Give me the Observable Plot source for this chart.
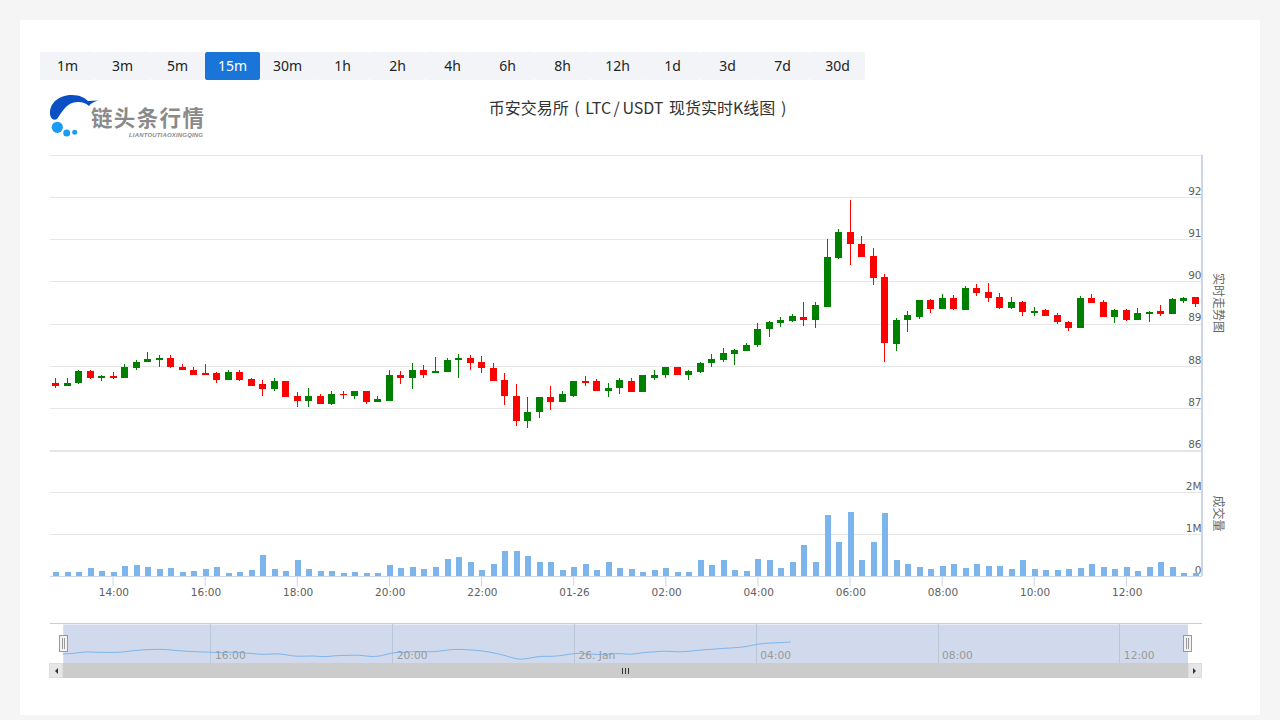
<!DOCTYPE html>
<html lang="zh">
<head>
<meta charset="utf-8">
<script src="https://cdn.jsdelivr.net/npm/d3@7"></script>
<script src="https://cdn.jsdelivr.net/npm/@observablehq/plot@0.6"></script>
<style>
html,body{margin:0;padding:0;background:#f5f5f5;}
body{width:1280px;height:720px;overflow:hidden;position:relative;font-family:"Noto Sans CJK SC","Noto Sans",sans-serif;}
#card{position:absolute;left:20px;top:20px;width:1240px;height:695px;background:#fff;}
#btns{position:absolute;left:40px;top:52px;display:flex;height:28px;}
#btns div{width:55px;height:28px;line-height:28px;text-align:center;background:#f2f4f7;color:#222;font-size:14px;font-family:"Noto Sans",sans-serif;border-radius:2px;}
#btns div.on{background:#1976d8;color:#fff;}
#title{position:absolute;left:0;width:1275px;top:95px;text-align:center;font-size:16px;line-height:24px;color:#333;word-spacing:2px;white-space:pre;}
#title span{margin:0 2.5px;word-spacing:0;}
.abs{position:absolute;left:0;}
.abs svg{display:block;}
#navTop{position:absolute;left:50px;width:1152px;top:623px;height:1px;background:#ccc;}
</style>
</head>
<body>
<div id="card"></div>
<div id="btns"></div>
<div id="title">币安交易所 ( LTC<span>/</span>USDT 现货实时K线图 )</div>
<svg id="logo" class="abs" style="top:90px" width="220" height="52" viewBox="0 90 220 52">
  <path fill="#0b4fc4" d="M50,113 C50,102 60,95 72,95 C80,95 85,98 88,101 L98,100.5 C94,102 91,103 89,106 C85,102 78,101 72,103 C66,105 61,113 57,119 C53,121 50,118 50,113 Z"/>
  <circle cx="57.3" cy="127.3" r="5.6" fill="#1a9bf5"/>
  <circle cx="66.7" cy="133" r="3.5" fill="#1a9bf5"/>
  <circle cx="74.7" cy="132.3" r="2.5" fill="#1a9bf5"/>
  <text x="91" y="126" font-size="21.5" textLength="113" font-weight="700" fill="#8a8a8a" font-family="Noto Sans CJK SC">链头条行情</text>
  <text x="129" y="137.2" font-size="6" font-weight="700" font-style="italic" fill="#8a8a8a" textLength="74" font-family="Liberation Sans">LIANTOUTIAOXINGQING</text>
</svg>
<div id="price" class="abs" style="top:150px"></div>
<div id="volume" class="abs" style="top:449px"></div>
<div id="navTop"></div>
<div id="nav" class="abs" style="top:620px"></div>
<svg id="chrome" class="abs" style="top:630px" width="1280" height="50" viewBox="0 630 1280 50">
  <rect x="49" y="663" width="1153" height="15" fill="#cccccc"/>
  <rect x="49.5" y="663.5" width="13" height="14" fill="#e6e6e6" stroke="#ddd"/>
  <rect x="1188.5" y="663.5" width="13" height="14" fill="#e6e6e6" stroke="#ddd"/>
  <path d="M58,668 L58,674 L55,671 Z" fill="#333"/>
  <path d="M1193,668 L1193,674 L1196,671 Z" fill="#333"/>
  <path d="M622.5,668 V674 M625.5,668 V674 M628.5,668 V674" stroke="#333" fill="none"/>
  <rect x="59.5" y="635.5" width="8" height="16" fill="#f2f2f2" stroke="#999"/>
  <path d="M62.5,638 V649 M64.5,638 V649" stroke="#999" fill="none"/>
  <rect x="1183.5" y="635.5" width="8" height="16" fill="#f2f2f2" stroke="#999"/>
  <path d="M1186.5,638 V649 M1188.5,638 V649" stroke="#999" fill="none"/>
</svg>
<script>
const intervals = ["1m","3m","5m","15m","30m","1h","2h","4h","6h","8h","12h","1d","3d","7d","30d"];
const activeInterval = "15m";

const open = [87.58,87.51,87.58,87.87,87.70,87.75,87.72,87.94,88.10,88.13,88.18,87.98,87.91,87.82,87.82,87.65,87.84,87.68,87.56,87.44,
87.63,87.27,87.17,87.29,87.08,87.32,87.27,87.41,87.13,87.17,87.79,87.70,87.91,87.82,87.84,88.13,88.18,88.08,87.94,87.65,
87.29,86.70,86.89,87.25,87.13,87.29,87.63,87.63,87.41,87.46,87.63,87.37,87.72,87.77,87.98,87.77,87.84,88.06,88.13,88.27,
88.34,88.48,88.87,89.01,89.06,89.15,89.08,89.40,90.56,91.18,90.89,90.61,90.11,88.52,89.09,89.16,89.57,89.35,89.61,89.33,
89.85,89.75,89.64,89.38,89.52,89.26,89.32,89.20,89.04,88.89,89.60,89.51,89.15,89.32,89.08,89.23,89.30,89.23,89.53,89.63];
const high = [87.70,87.72,87.89,87.91,87.77,87.84,88.03,88.13,88.32,88.25,88.25,88.03,87.96,88.03,87.84,87.89,87.91,87.72,87.65,87.72,
87.63,87.37,87.48,87.34,87.41,87.39,87.41,87.41,87.29,87.91,87.87,88.06,88.01,88.20,88.18,88.27,88.25,88.22,88.06,87.82,
87.56,87.25,87.25,87.53,87.41,87.63,87.75,87.68,87.60,87.70,87.72,87.77,87.91,87.98,87.98,87.89,88.08,88.27,88.41,88.39,
88.53,89.01,89.06,89.15,89.22,89.51,89.51,91.01,91.25,91.94,91.08,90.80,90.18,89.14,89.30,89.57,89.59,89.71,89.68,89.90,
89.94,89.97,89.73,89.64,89.54,89.40,89.34,89.25,89.06,89.65,89.70,89.56,89.34,89.34,89.37,89.30,89.44,89.60,89.63,89.63];
const low = [87.48,87.51,87.56,87.68,87.63,87.68,87.72,87.91,88.08,87.98,87.94,87.89,87.79,87.79,87.60,87.65,87.63,87.51,87.27,87.39,
87.25,87.01,87.01,87.08,87.06,87.20,87.22,87.10,87.13,87.17,87.56,87.44,87.72,87.82,87.84,87.72,87.89,87.82,87.63,87.06,
86.58,86.53,86.77,86.94,87.13,87.25,87.53,87.41,87.25,87.34,87.37,87.37,87.67,87.70,87.77,87.67,87.82,87.98,88.08,88.01,
88.34,88.44,88.67,88.91,89.03,88.94,88.89,89.40,90.54,90.40,90.58,89.92,88.09,88.36,88.81,89.11,89.26,89.35,89.33,89.33,
89.66,89.52,89.35,89.35,89.19,89.19,89.18,88.99,88.82,88.89,89.49,89.15,89.01,89.06,89.08,89.04,89.18,89.23,89.49,89.39];
const close = [87.51,87.60,87.87,87.72,87.75,87.72,87.96,88.10,88.15,88.18,87.96,87.89,87.79,87.79,87.65,87.84,87.65,87.51,87.44,87.63,
87.25,87.17,87.29,87.08,87.32,87.30,87.41,87.13,87.20,87.79,87.70,87.91,87.79,87.87,88.13,88.18,88.06,87.94,87.63,87.29,
86.70,86.91,87.25,87.15,87.32,87.63,87.60,87.41,87.48,87.65,87.37,87.77,87.77,87.98,87.77,87.87,88.06,88.15,88.29,88.37,
88.48,88.87,89.03,89.08,89.17,89.08,89.44,90.58,91.18,90.89,90.58,90.09,88.55,89.09,89.21,89.57,89.35,89.61,89.35,89.85,
89.73,89.61,89.38,89.52,89.28,89.30,89.18,89.04,88.89,89.60,89.49,89.15,89.32,89.08,89.25,89.27,89.23,89.58,89.60,89.46];
const volumeM = [.10,.09,.09,.20,.12,.10,.25,.27,.22,.17,.20,.10,.13,.17,.21,.07,.10,.15,.51,.17,
.12,.37,.16,.12,.13,.08,.10,.07,.06,.27,.20,.21,.17,.21,.40,.46,.33,.15,.29,.60,
.59,.48,.33,.34,.15,.22,.29,.15,.33,.20,.17,.09,.15,.20,.09,.10,.39,.26,.38,.15,
.12,.40,.39,.20,.34,.75,.34,1.46,.81,1.52,.38,.81,1.51,.38,.29,.21,.17,.25,.29,.19,
.29,.24,.24,.17,.38,.17,.15,.15,.17,.19,.29,.21,.17,.21,.12,.22,.33,.21,.06,.06];

const firstCandle = Date.UTC(2020,0,25,12,45);
const QUARTER = 15*60*1000;
const times = open.map((_, i) => new Date(firstCandle + i*QUARTER));
const candles = times.map((t, i) => ({t, o:open[i], h:high[i], l:low[i], c:close[i], v:volumeM[i]}));
const navLineCount = 65;           // the navigator series stops at 04:45

const priceTicks = [86,87,88,89,90,91,92];
const priceGrid = [86,87,88,89,90,91,92,93];
const volumeTicks = [0,1,2];
const volumeGrid = [1,2];
const hourTicks = [14,16,18,20,22,24,26,28,30,32,34,36].map(h => new Date(Date.UTC(2020,0,25,h)));
const navTicks = [16,20,24,28,32,36].map(h => new Date(Date.UTC(2020,0,25,h)));

const MS_PER_PX = QUARTER/11.515;
const xDomain = [new Date(firstCandle - 5*MS_PER_PX), new Date(firstCandle + 99*QUARTER + 7*MS_PER_PX)];
const hhmm = d3.utcFormat("%H:%M");
const axisFont = {fontFamily:"DejaVu Sans", fontSize:"10.5px", background:"transparent"};
const green = "#008000", red = "#ff0000", volBlue = "#7cb5ec", gridC = "#e6e6e6", axisC = "#ccd6eb", labelC = "#606060";
const dirColor = d => d.c >= d.o ? green : red;
const xRight = xDomain[1];
const crisp = {shapeRendering:"crispEdges"};

document.getElementById("btns").innerHTML = intervals.map(s => `<div class="${s===activeInterval?"on":""}">${s}</div>`).join("");

document.getElementById("price").append(Plot.plot({
  width:1280, height:301, marginLeft:50, marginRight:78, marginTop:5, marginBottom:1,
  style:axisFont,
  x:{type:"utc", domain:xDomain, axis:null},
  y:{domain:[86,93], axis:null},
  marks:[
    Plot.ruleY(priceGrid, {stroke:gridC, strokeWidth:1, ...crisp}),
    Plot.ruleX([xRight], {stroke:axisC, strokeWidth:2, dx:-0.5, ...crisp}),
    Plot.axisY(priceTicks, {anchor:"right", label:null, tickSize:0, tickPadding:0, textAnchor:"end", dx:-1, dy:-6, fill:labelC, tickFormat:d=>String(d)}),
    Plot.text(["实时走势图"], {x:()=>xRight, y:()=>89.5, text:d=>d, rotate:90, dx:15, fill:"#666", fontSize:12, fontFamily:"Noto Sans CJK SC"}),
    Plot.ruleX(candles, {x:"t", y1:"l", y2:"h", stroke:dirColor, strokeWidth:1, ...crisp}),
    Plot.ruleX(candles, {x:"t", y1:"o", y2:"c", stroke:dirColor, strokeWidth:7, ...crisp})
  ]
}));

document.getElementById("volume").append(Plot.plot({
  width:1280, height:171, marginLeft:50, marginRight:78, marginTop:1, marginBottom:44,
  style:axisFont,
  x:{type:"utc", domain:xDomain, axis:null},
  y:{domain:[0,3], axis:null},
  marks:[
    Plot.ruleY(volumeGrid, {stroke:gridC, strokeWidth:1, ...crisp}),
    Plot.ruleY([3], {stroke:gridC, strokeWidth:1, dy:1, ...crisp}),
    Plot.ruleX([xRight], {stroke:axisC, strokeWidth:2, dx:-0.5, ...crisp}),
    Plot.ruleY([0], {stroke:axisC, strokeWidth:1, ...crisp}),
    Plot.axisY(volumeTicks, {anchor:"right", label:null, tickSize:0, tickPadding:0, textAnchor:"end", dx:-1, dy:-6, fill:labelC, tickFormat:d=>d===0?"0":d+"M"}),
    Plot.axisX(hourTicks, {anchor:"bottom", label:null, tickSize:10, text:null, stroke:axisC}),
    Plot.axisX(hourTicks, {anchor:"bottom", label:null, tickSize:0, tickPadding:12, dx:0.8, fill:labelC, tickFormat:d=>d.getUTCHours()===0?"01-26":hhmm(d)}),
    Plot.text(["成交量"], {x:()=>xRight, y:()=>1.5, text:d=>d, rotate:90, dx:15, fill:"#666", fontSize:12, fontFamily:"Noto Sans CJK SC"}),
    Plot.ruleX(candles, {x:"t", y1:0, y2:"v", stroke:volBlue, strokeWidth:6, dx:0.5, ...crisp})
  ]
}));

document.getElementById("nav").append(Plot.plot({
  width:1280, height:60, marginLeft:62.7, marginRight:92.5, marginTop:4, marginBottom:17,
  style:axisFont,
  x:{type:"utc", domain:[times[0], times[times.length-1]], axis:null},
  y:{domain:[86.2,91.6], axis:null},
  marks:[
    Plot.frame({fill:"#d1daec", stroke:null}),
    Plot.ruleX(navTicks, {stroke:"#bcc6da", strokeWidth:1, ...crisp}),
    Plot.line(candles.slice(0,navLineCount), {x:"t", y:"c", stroke:volBlue, strokeWidth:1, curve:"basis"}),
    Plot.text(navTicks, {x:d=>d, frameAnchor:"bottom", dy:-8, dx:4, textAnchor:"start", lineAnchor:"middle", fill:"#999", fontSize:10.7, text:d=>d.getUTCHours()===0?"26. Jan":hhmm(d)})
  ]
}));
</script>
</body>
</html>
